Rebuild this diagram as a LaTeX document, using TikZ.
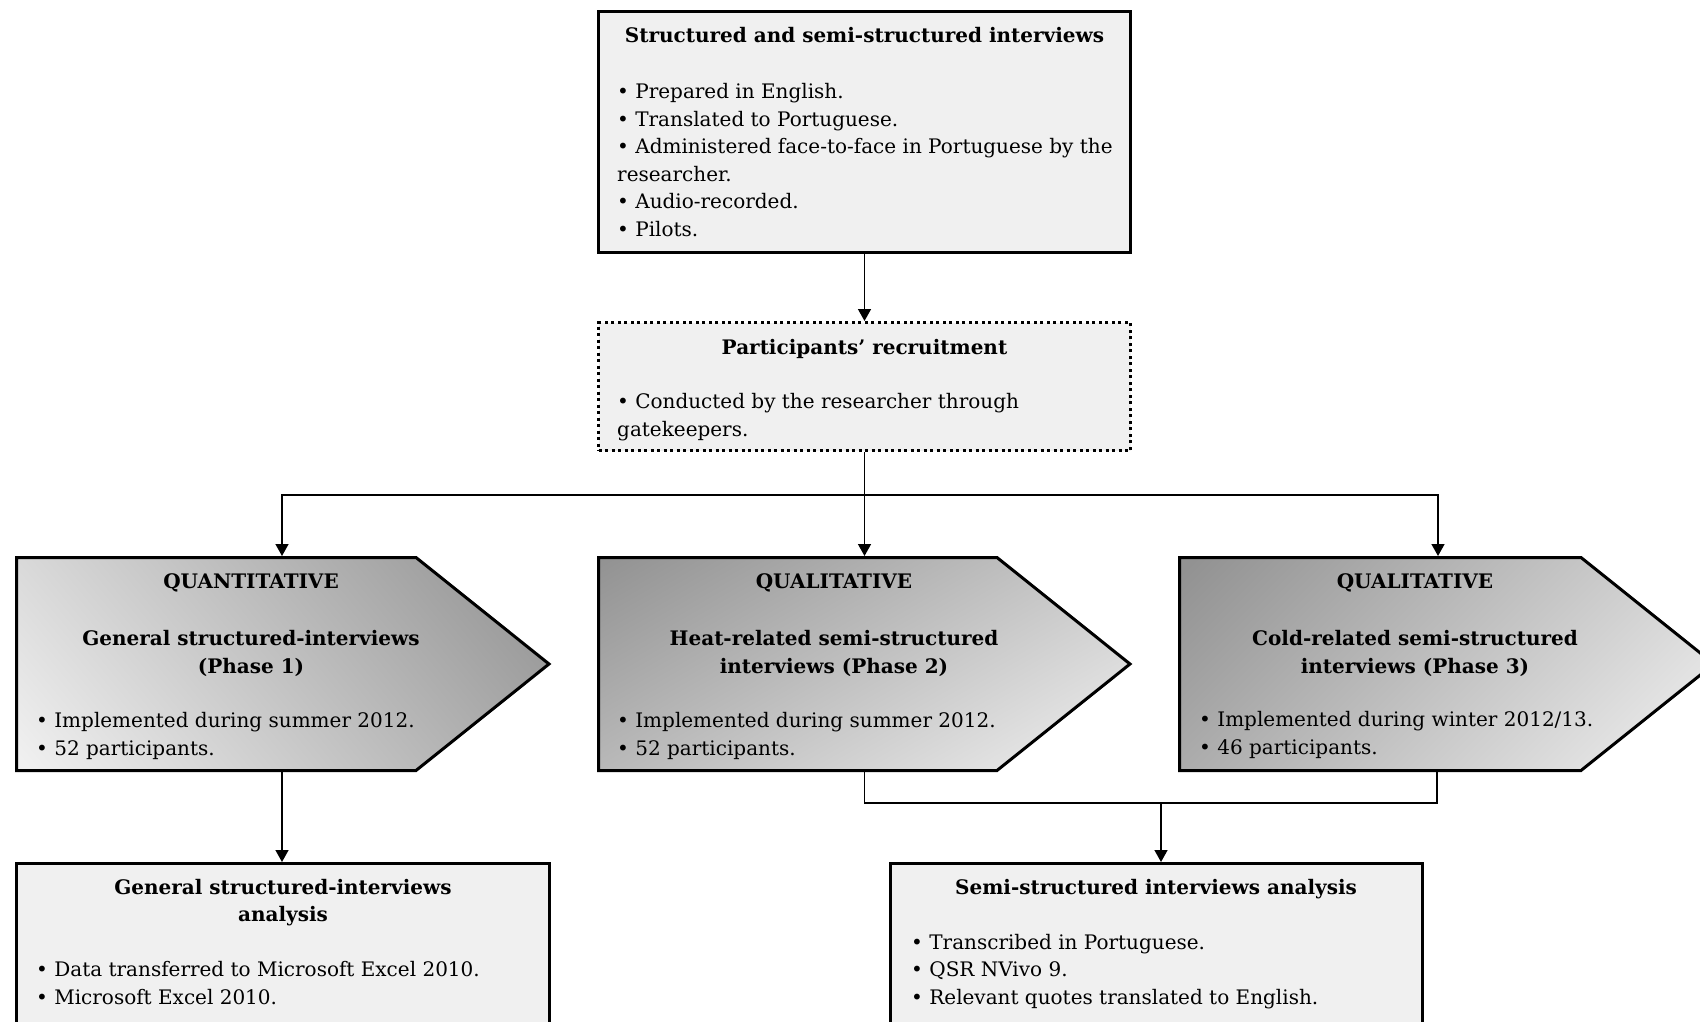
\documentclass[tikz,border=0pt]{standalone}
\usepackage{fontspec}
\setmainfont{DejaVu Serif}
\usetikzlibrary{arrows.meta}
\definecolor{boxfill}{HTML}{F0F0F0}
\definecolor{shdark}{HTML}{929292}
\definecolor{shlight}{HTML}{F0F0F0}
\pgfdeclareverticalshading{ramp}{100bp}{color(0bp)=(shlight); color(16bp)=(shlight); color(84bp)=(shdark); color(100bp)=(shdark)}
\begin{document}
\begin{tikzpicture}[x=1pt,y=-1pt,
  box/.style={draw=black, line width=3pt, fill=boxfill, inner sep=0pt},
  dotbox/.style={box, dash pattern=on 3pt off 3.5pt},
  pent/.style={draw=black, line width=3pt, line join=miter, shading=ramp},
  txt/.style={font=\fontsize{20}{27.5}\selectfont, align=left, inner sep=0pt, anchor=base west},
  ttl/.style={font=\fontsize{20}{27.5}\selectfont\bfseries, align=center, inner sep=0pt, anchor=base},
  conn/.style={line width=1.5pt, draw=black},
  arr/.style={conn, -{Triangle[length=12pt,width=13pt]}}
]
\path[use as bounding box, clip] (0,0) rectangle (1700,1022);
\fill[white] (0,0) rectangle (1700,1022);

% boxes
\node[box, minimum width=532pt, minimum height=241pt, anchor=north west] (top) at (597,10) {};
\node[dotbox, minimum width=532pt, minimum height=128pt, anchor=north west] (recr) at (597,321) {};
\node[box, minimum width=533pt, minimum height=220pt, anchor=north west] (ana1) at (15,862) {};
\node[box, minimum width=532pt, minimum height=220pt, anchor=north west] (ana2) at (889,862) {};

% pentagons
\shadedraw[pent, shading angle=-50]
  (16.5,557.5) -- (416,557.5) -- (549,664) -- (416,770.5) -- (16.5,770.5) -- cycle;
\shadedraw[pent, shading angle=30]
  (598.5,557.5) -- (997,557.5) -- (1130,664) -- (997,770.5) -- (598.5,770.5) -- cycle;
\shadedraw[pent, shading angle=45]
  (1179.5,557.5) -- (1581,557.5) -- (1714,664) -- (1581,770.5) -- (1179.5,770.5) -- cycle;

\coordinate (hy) at (0,495);
\coordinate (p1n) at (282,556);
\coordinate (p3n) at (1438,556);
\coordinate (p1s) at (282,772);
\coordinate (p3s) at (1437,772);
\coordinate (p2n) at (recr.south |- p1n);
\coordinate (p2s) at (recr.south |- p1s);
\coordinate (hub) at (recr.south |- hy);
\coordinate (mid) at (1161,803);

% texts (multi-line nodes: base = last line)
\node[ttl] (t1) at (864.5,43) {Structured and semi-structured interviews};
\node[txt] (t1b) at (617,236) {• Prepared in English.\\• Translated to Portuguese.\\• Administered face-to-face in Portuguese by the\\researcher.\\• Audio-recorded.\\• Pilots.};

\node[ttl] (t2) at (864.5,354) {Participants’ recruitment};
\node[txt] (t2b) at (617,436) {• Conducted by the researcher through\\gatekeepers.};

\node[ttl] (q1) at (251,588) {QUANTITATIVE};
\node[ttl] (q1h) at (251,673) {General structured-interviews\\(Phase 1)};
\node[txt] (q1b) at (36,755) {• Implemented during summer 2012.\\• 52 participants.};

\node[ttl] (q2) at (834,588) {QUALITATIVE};
\node[ttl] (q2h) at (834,673) {Heat-related semi-structured\\interviews (Phase 2)};
\node[txt] (q2b) at (617,755) {• Implemented during summer 2012.\\• 52 participants.};

\node[ttl] (q3) at (1415,588) {QUALITATIVE};
\node[ttl] (q3h) at (1415,673) {Cold-related semi-structured\\interviews (Phase 3)};
\node[txt] (q3b) at (1199,754) {• Implemented during winter 2012/13.\\• 46 participants.};

\node[ttl] (a1) at (283,921.5) {General structured-interviews\\analysis};
\node[txt] (a1b) at (36,1004) {• Data transferred to Microsoft Excel 2010.\\• Microsoft Excel 2010.};

\node[ttl] (a2) at (1156,894) {Semi-structured interviews analysis};
\node[txt] (a2b) at (911,1004) {• Transcribed in Portuguese.\\• QSR NVivo 9.\\• Relevant quotes translated to English.};

% connectors
\draw[arr] (top.south) -- (recr.north);
\draw[arr] (recr.south) -- (p2n);
\draw[arr] (hub) -| (p1n);
\draw[arr] (hub) -| (p3n);
\draw[arr] (p1s) -- (p1s |- ana1.north);
\draw[conn] (p2s) |- (mid) -| (p3s);
\draw[arr] (mid) -- (mid |- ana2.north);
\end{tikzpicture}
\end{document}
